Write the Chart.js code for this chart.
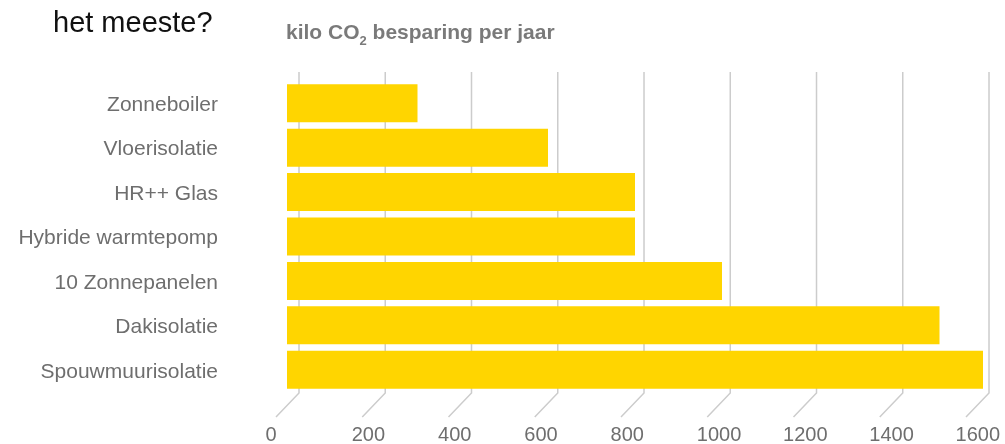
<!DOCTYPE html>
<html><head><meta charset="utf-8">
<script src="https://cdn.jsdelivr.net/npm/chart.js@4"></script>
<style>
html,body{margin:0;padding:0;background:#fff;}
#wrap{position:relative;width:1005px;height:444px;overflow:hidden;}
#title{position:absolute;left:53px;top:8px;font:29px/29px "Liberation Sans",Arial,sans-serif;color:#111;white-space:nowrap;}
#sub{position:absolute;left:286px;top:21px;font:bold 21px/21px "Liberation Sans",Arial,sans-serif;color:#7a7a7a;white-space:nowrap;}
#sub span{font-size:13px;position:relative;top:6px;}
canvas{position:absolute;left:0;top:0;}
</style></head>
<body>
<div id="wrap">
<canvas id="c" width="1005" height="444"></canvas>
<div id="title">het meeste?</div>
<div id="sub">kilo CO<span>2</span> besparing per jaar</div>
</div>
<script>
const categories = ["Zonneboiler","Vloerisolatie","HR++ Glas","Hybride warmtepomp","10 Zonnepanelen","Dakisolatie","Spouwmuurisolatie"];
const values = [300,600,800,800,1000,1500,1600];
const xTicks = [0,200,400,600,800,1000,1200,1400,1600];

const FONT = '"Liberation Sans", Arial, sans-serif';
const GRAY = '#6e6e6e';

const perspectiveGrid = {
  id: 'perspectiveGrid',
  beforeDatasetsDraw(chart) {
    const {ctx, chartArea, scales: {x}} = chart;
    ctx.save();
    ctx.strokeStyle = '#cccccc';
    ctx.lineWidth = 1.5;
    xTicks.forEach(v => {
      const px = x.getPixelForValue(v);
      const gx = chartArea.left + 12 + (px - chartArea.left) * 0.9914;
      ctx.beginPath();
      ctx.moveTo(gx, chartArea.top - 9);
      ctx.lineTo(gx, chartArea.bottom + 1);
      ctx.lineTo(gx - 23, chartArea.bottom + 25);
      ctx.stroke();
    });
    ctx.restore();
  },
  afterDraw(chart) {
    const {ctx, chartArea, scales: {x}} = chart;
    ctx.save();
    ctx.fillStyle = GRAY;
    ctx.font = '20px ' + FONT;
    ctx.textAlign = 'left';
    ctx.textBaseline = 'alphabetic';
    xTicks.forEach(v => {
      const px = x.getPixelForValue(v);
      const gx = chartArea.left + 12 + (px - chartArea.left) * 0.9914;
      ctx.fillText(String(v), gx - 33.5, chartArea.bottom + 49);
    });
    ctx.restore();
  }
};

new Chart(document.getElementById('c'), {
  type: 'bar',
  data: {
    labels: categories,
    datasets: [{
      data: values,
      backgroundColor: '#FFD500',
      borderWidth: 0,
      categoryPercentage: 1,
      barPercentage: 0.855
    }]
  },
  options: {
    indexAxis: 'y',
    responsive: false,
    animation: false,
    layout: {padding: {left: 0, right: 22, top: 81, bottom: 52}},
    plugins: {legend: {display: false}, tooltip: {enabled: false}, title: {display: false}},
    scales: {
      x: {
        display: false,
        min: 0, max: 1600,
        ticks: {stepSize: 200}
      },
      y: {
        ticks: {color: GRAY, font: {family: FONT, size: 21}, padding: 0, labelOffset: 2},
        grid: {display: true, drawOnChartArea: false, drawTicks: true, tickLength: 69, color: 'rgba(0,0,0,0)'},
        border: {display: false},
        afterFit(s) { s.width = 287; }
      }
    }
  },
  plugins: [perspectiveGrid]
});
</script>
</body></html>
